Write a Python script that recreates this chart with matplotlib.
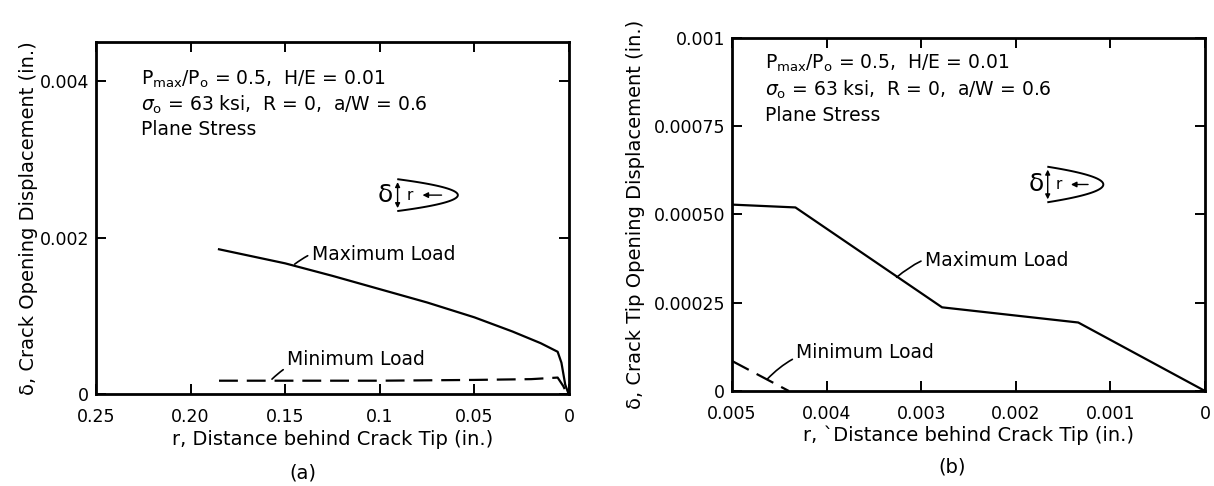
import numpy as np
import matplotlib
matplotlib.use("Agg")
import matplotlib.pyplot as plt

plt.rcParams['font.family'] = ['DejaVu Sans']
plt.rcParams['mathtext.fontset'] = 'dejavusans'

tickFont = {'size': 12.5}
labelFont = {'size': 14}
noteFont = {'size': 13.5}
lineStyle = {'color': 'black', 'linewidth': 1.6}
dashStyle = {'color': 'black', 'linewidth': 1.6, 'dashes': (8.5, 4)}

# (a) crack opening displacement along the crack
a_r_max = [0.185, 0.15, 0.125, 0.1, 0.075, 0.05, 0.03, 0.015, 0.006, 0.004, 0.002, 0.0005]
a_d_max = [0.00185, 0.00167, 0.00151, 0.00134, 0.00117, 0.00098, 0.00080, 0.00065, 0.00054, 0.00040, 0.00012, 0.00002]
a_r_min = [0.185, 0.15, 0.1, 0.05, 0.02, 0.006, 0.003, 0.001]
a_d_min = [0.00017, 0.00017, 0.00017, 0.00018, 0.00019, 0.00021, 0.00010, 0.0]
a_xticks = [0.25, 0.20, 0.15, 0.1, 0.05, 0]
a_xlabels = ["0.25", "0.20", "0.15", "0.1", "0.05", "0"]
a_yticks = [0, 0.002, 0.004]
a_ylabels = ["0", "0.002", "0.004"]

# (b) crack tip opening displacement
b_r_max = [0.005, 0.00433, 0.00278, 0.00134, 0.0]
b_d_max = [0.000528, 0.000520, 0.000237, 0.000194, 0.0]
b_r_min = [0.005, 0.0044]
b_d_min = [0.000085, 0.0]
b_xticks = [0.005, 0.004, 0.003, 0.002, 0.001, 0]
b_xlabels = ["0.005", "0.004", "0.003", "0.002", "0.001", "0"]
b_yticks = [0, 0.00025, 0.0005, 0.00075, 0.001]
b_ylabels = ["0", "0.00025", "0.00050", "0.00075", "0.001"]

params = [r"$\mathrm{P_{max}/P_o}$ = 0.5,  H/E = 0.01",
          r"$\sigma_\mathrm{o}$ = 63 ksi,  R = 0,  a/W = 0.6",
          "Plane Stress"]


def crack_icon(ax, x0, y0, w, h):
    # little sketch of the crack profile, drawn in axes fraction
    t = np.linspace(-1, 1, 60)
    xs = x0 + 0.03 * w + w * (1 - t ** 2) * 0.97
    ys = y0 + t * h / 2
    ax.plot(xs, ys, color='black', lw=1.4, transform=ax.transAxes, clip_on=False)
    ax.annotate("", xy=(x0 + 0.02 * w, y0 + h / 2), xytext=(x0 + 0.02 * w, y0 - h / 2),
                xycoords='axes fraction', textcoords='axes fraction',
                arrowprops=dict(arrowstyle='<|-|>', color='black', lw=1.0, mutation_scale=7))
    ax.text(x0 - 0.05 * w, y0, "δ", transform=ax.transAxes, fontsize=18,
            ha='right', va='center')
    ax.text(x0 + 0.22 * w, y0, "r", transform=ax.transAxes, fontsize=11,
            ha='center', va='center')
    ax.annotate("", xy=(x0 + 0.38 * w, y0), xytext=(x0 + 0.78 * w, y0),
                xycoords='axes fraction', textcoords='axes fraction',
                arrowprops=dict(arrowstyle='-|>', color='black', lw=1.0, mutation_scale=8))


def style_axes(ax, xticks, xlabels, yticks, ylabels):
    ax.set_xticks(xticks)
    ax.set_xticklabels(xlabels, **tickFont)
    ax.set_yticks(yticks)
    ax.set_yticklabels(ylabels, **tickFont)
    ax.tick_params(direction='in', length=7, width=1.4, top=True, right=True)
    ax.tick_params(axis='x', pad=10)
    ax.tick_params(axis='y', pad=5)
    for s in ax.spines.values():
        s.set_linewidth(2)


leader = dict(arrowstyle='-', color='black', lw=1.2,
              connectionstyle='arc3,rad=0.3', shrinkA=1, shrinkB=0)

fig = plt.figure(figsize=(12.14, 4.86), dpi=100)

# ---------------- (a)
ax1 = fig.add_axes([0.0791, 0.1893, 0.3896, 0.7243])
ax1.plot(a_r_max, a_d_max, **lineStyle)
ax1.plot(a_r_min, a_d_min, **dashStyle)
ax1.set_xlim(0.25, 0)
ax1.set_ylim(0, 0.0045)
style_axes(ax1, a_xticks, a_xlabels, a_yticks, a_ylabels)
ax1.set_xlabel("r, Distance behind Crack Tip (in.)", labelpad=3, **labelFont)
ax1.set_ylabel("δ, Crack Opening Displacement (in.)", labelpad=1, **labelFont)
for i, s in enumerate(params):
    ax1.text(0.226, 0.00402 - i * 0.00032, s, va='center', fontsize=13.5)
ax1.annotate("Maximum Load", xy=(0.145, 0.00166), xytext=(0.136, 0.00178),
             va='center', arrowprops=leader, **noteFont)
ax1.annotate("Minimum Load", xy=(0.157, 0.00019), xytext=(0.149, 0.00044),
             va='center', arrowprops=leader, **noteFont)
crack_icon(ax1, 0.635, 0.565, 0.13, 0.09)
fig.text(303 / 1214, 1 - 473 / 486, "(a)", ha='center', va='center', fontsize=14)

# ---------------- (b)
ax2 = fig.add_axes([0.603, 0.1955, 0.3896, 0.7263])
ax2.plot(b_r_max, b_d_max, **lineStyle)
ax2.plot(b_r_min, b_d_min, **dashStyle)
ax2.set_xlim(0.005, 0)
ax2.set_ylim(0, 0.001)
style_axes(ax2, b_xticks, b_xlabels, b_yticks, b_ylabels)
ax2.set_xlabel("r, `Distance behind Crack Tip (in.)", labelpad=2, **labelFont)
ax2.set_ylabel("δ, Crack Tip Opening Displacement (in.)", labelpad=6, **labelFont)
for i, s in enumerate(params):
    ax2.text(0.00465, 0.000927 - i * 0.0000735, s, va='center', fontsize=13.5)
ax2.annotate("Maximum Load", xy=(0.00326, 0.000322), xytext=(0.00296, 0.000371),
             va='center', arrowprops=leader, **noteFont)
ax2.annotate("Minimum Load", xy=(0.00463, 0.000033), xytext=(0.00432, 0.000109),
             va='center', arrowprops=leader, **noteFont)
crack_icon(ax2, 0.665, 0.585, 0.12, 0.10)
fig.text(952 / 1214, 1 - 467 / 486, "(b)", ha='center', va='center', fontsize=14)

fig.savefig("out.png", dpi=100)
